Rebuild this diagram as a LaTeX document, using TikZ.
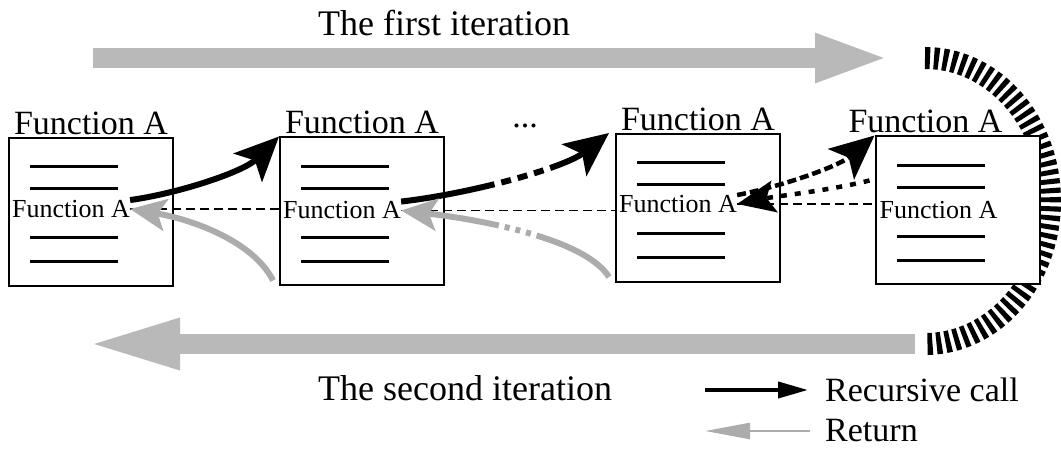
\documentclass[tikz,border=0pt]{standalone}
\usepackage{fontspec}
\setmainfont{Liberation Serif}
\usetikzlibrary{arrows.meta,positioning,backgrounds}

\begin{document}
\begin{tikzpicture}[x=1pt,y=1pt]
      \tikzstyle{funcbox}=[rectangle, draw, line width=2pt, fill=white, minimum width=164pt, minimum height=148pt, inner sep=0pt]
      \tikzstyle{bigtext}=[font=\fontsize{34}{40}\selectfont, inner sep=0pt]
      \tikzstyle{itertext}=[font=\fontsize{36}{42}\selectfont, inner sep=0pt]
      \tikzstyle{calltext}=[font=\fontsize{26}{30}\selectfont, inner sep=0pt]
      \tikzstyle{codeline}=[line width=3pt]
      \tikzstyle{call}=[line width=6pt, -{Stealth[length=44pt,width=40pt,inset=10pt]}]
      \tikzstyle{ret}=[gray!65, line width=6pt, -{Stealth[length=36pt,width=32pt,inset=8pt]}]
      \tikzstyle{iter}=[gray!55, line width=20pt]
      \useasboundingbox (0,0) rectangle (1061,453);
      % boxes
      \node[funcbox] (F1) at (91,241) {};
      \node[funcbox] (F2) at (362,241.5) {};
      \node[funcbox] (F3) at (698,245) {};
      \node[funcbox] (F4) at (957.5,242.5) {};
      \node[bigtext, above=2pt of F1] (T1) {Function A};
      \node[bigtext, above=2pt of F2] (T2) {Function A};
      \node[bigtext, above=2pt of F3] (T3) {Function A};
      \node[bigtext, above=2pt of F4, xshift=-32pt] (T4) {Function A};
      \node[bigtext, anchor=base] (dots) at (525,325) {...};
      \node[calltext, right=4pt of F1.west, yshift=3pt] (C1) {Function A};
      \node[calltext, right=4pt of F2.west, yshift=1pt] (C2) {Function A};
      \node[calltext, right=4pt of F3.west, yshift=4pt] (C3) {Function A};
      \node[calltext, right=5pt of F4.west] (C4) {Function A};
      \foreach \f in {F1,F2,F3,F4}
        \foreach \dy in {45,23,-26,-50}
          \draw[codeline] ([xshift=-61pt,yshift=\dy pt]\f.center) -- ++(88,0);
      \draw[line width=1.5pt, dash pattern=on 9pt off 5pt] (C1.east) -- (F2.west |- C1.east);
      \draw[line width=1.5pt, dash pattern=on 9pt off 5pt] (C2.east) -- (F3.west |- C2.east);
      \draw[line width=1.5pt, dash pattern=on 9pt off 5pt] (C3.east) -- (F4.west |- C3.east);
      % iterations
      \begin{scope}[on background layer]
        \draw[iter, -{Triangle[length=75pt,width=44pt]}] (93,395) -- (890,395);
        \draw[iter, -{Triangle[length=94pt,width=46pt]}] (915,109) -- (86,109);
        \draw[line width=22pt, dash pattern=on 5pt off 4pt] (925,395) arc[start angle=90, end angle=-90, x radius=125, y radius=143];
      \end{scope}
      \node[itertext, anchor=west] (first) at (318,430) {The first iteration};
      \node[itertext, anchor=west] (second) at (318,65) {The second iteration};
      % calls and returns
      \draw[call] (C1.north east) .. controls +(50,7) and +(-35,-35) .. (F2.north west);
      \draw[call, dash pattern=on 95pt off 7pt on 10pt off 7pt on 10pt off 7pt on 10pt off 7pt on 300pt] (C2.north east) .. controls +(70,8) and +(-45,-35) .. ([xshift=-6pt]F3.north west);
      \draw[call, line width=4.5pt, dash pattern=on 9pt off 4pt] (C3.north east) .. controls +(50,10) and +(-35,-30) .. (F4.north west);
      \draw[ret] ([xshift=-6pt,yshift=6pt]F2.south west) .. controls +(-20,40) and +(60,-10) .. (C1.east);
      \draw[ret, dash pattern=on 85pt off 6pt on 5pt off 6pt on 5pt off 6pt on 5pt off 6pt on 300pt] ([xshift=-6pt,yshift=6pt]F3.south west) .. controls +(-25,40) and +(70,-8) .. (C2.east);
      \draw[line width=4.5pt, dash pattern=on 6pt off 8pt, -{Stealth[length=38pt,width=32pt,inset=8pt]}] ([xshift=-5pt,yshift=30pt]F4.west) .. controls +(-40,-10) and +(40,8) .. (C3.east);
      % legend
      \coordinate (callTail) at (705,63);
      \node[bigtext, anchor=west] (callText) at (825,63) {Recursive call};
      \draw[line width=4pt, -{Triangle[length=30pt,width=16pt]}] (callTail) -- ([xshift=-17pt]callText.west);
      \coordinate (retTip) at (705,22);
      \node[bigtext, anchor=west] (retText) at (825,22) {Return};
      \draw[gray!65, line width=2.5pt, -{Triangle[length=45pt,width=16pt]}] ([xshift=-15pt]retText.west) -- (retTip);
\end{tikzpicture}
\end{document}
